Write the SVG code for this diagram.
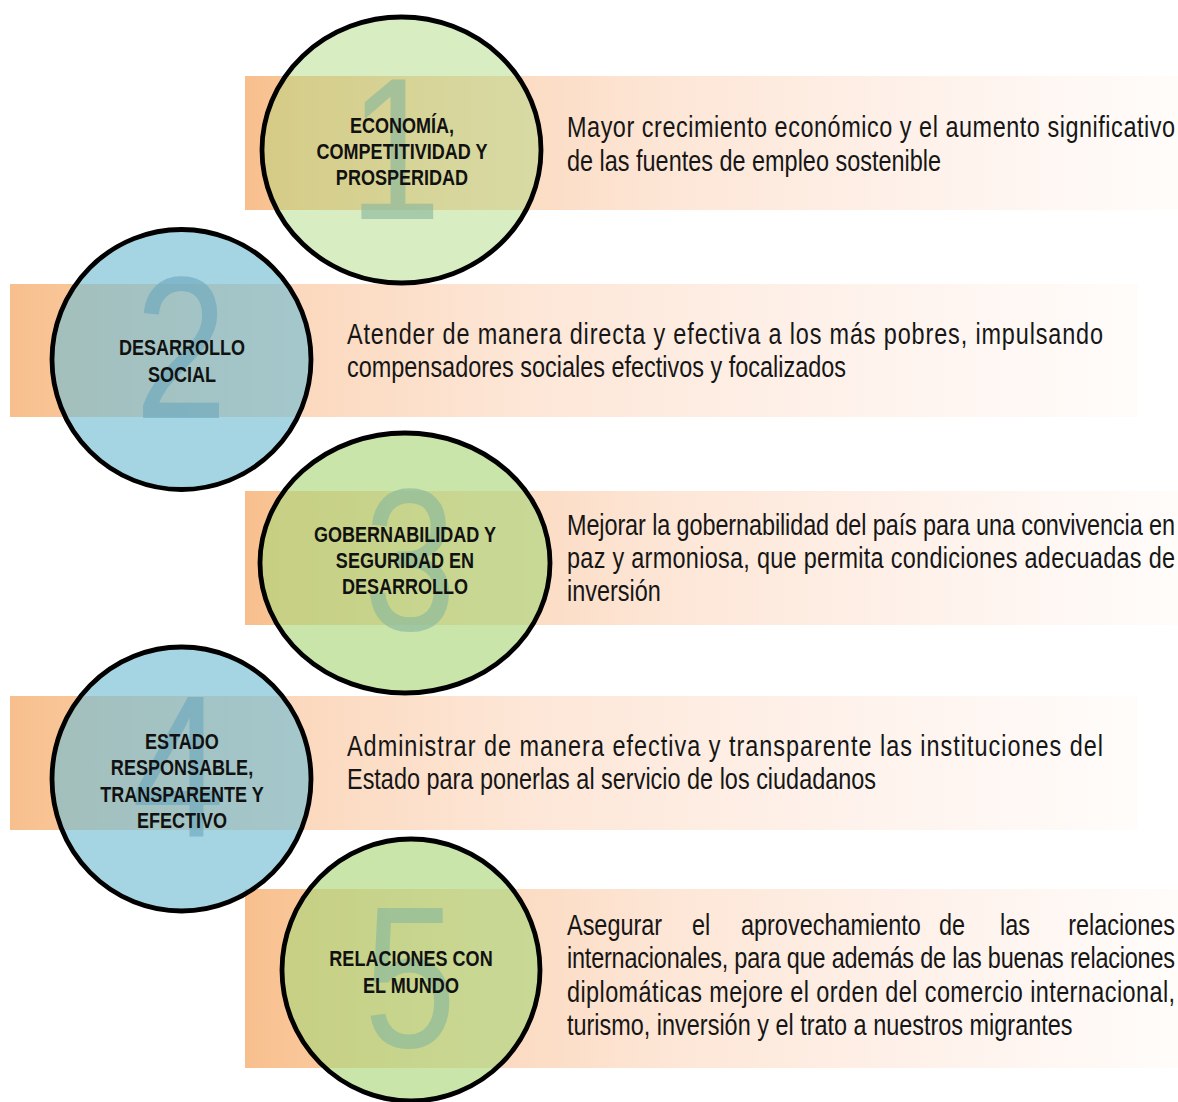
<svg xmlns="http://www.w3.org/2000/svg" width="1178" height="1102" viewBox="0 0 1178 1102">
  <defs>
    <linearGradient id="band" x1="0" y1="0" x2="1" y2="0">
      <stop offset="0" stop-color="#f8bf8d"/>
      <stop offset="0.04" stop-color="#f9c495"/>
      <stop offset="0.25" stop-color="#fbd8bd"/>
      <stop offset="0.45" stop-color="#fde6d6"/>
      <stop offset="0.72" stop-color="#fef1ea"/>
      <stop offset="1" stop-color="#fffcfa"/>
    </linearGradient>
    <style>
      .band { fill: url(#band); }
      .ring { fill: none; stroke: #000; stroke-width: 4.8; }
      .green1 { fill: #abd77a; fill-opacity: 0.45; }
      .green { fill: #abd77a; fill-opacity: 0.64; }
      .blue { fill: #70bdd3; fill-opacity: 0.63; }
      .num { font-family: "Liberation Sans", Arial, sans-serif; font-size: 203px; text-anchor: middle; }
      .numg { fill: #86b69c; fill-opacity: 0.62; }
      .numb { fill: #6aa6bd; fill-opacity: 0.62; }
      .lbl { font-family: "Liberation Sans", Arial, sans-serif; font-weight: bold; font-size: 22px; fill: #111; text-anchor: middle; }
      .txt { font-family: "Liberation Sans", Arial, sans-serif; font-size: 28.6px; fill: #161616; }
    </style>
  </defs>

  <g id="bands">
    <rect class="band" x="245" y="76" width="933" height="134"/>
    <rect class="band" x="10" y="284" width="1128" height="133"/>
    <rect class="band" x="245" y="491" width="933" height="134"/>
    <rect class="band" x="10" y="696" width="1128" height="134"/>
    <rect class="band" x="245" y="889" width="933" height="179"/>
  </g>

  <g id="connectors"></g>

  <g id="node1">
    <ellipse class="green1" cx="401.5" cy="150" rx="139.5" ry="133"/>
    <text class="num numg" transform="translate(395 219) scale(0.82 1)">1</text>
    <ellipse class="ring" cx="401.5" cy="150" rx="139.5" ry="133"/>
    <text class="lbl" transform="translate(402 133) scale(0.82 1)"><tspan x="0" y="0">ECONOMÍA,</tspan><tspan x="0" y="26">COMPETITIVIDAD Y</tspan><tspan x="0" y="52">PROSPERIDAD</tspan></text>
    <text class="txt" transform="translate(567 137) scale(0.82 1)" textLength="741.5" lengthAdjust="spacing">Mayor crecimiento económico y el aumento significativo</text>
    <text class="txt" transform="translate(567 171) scale(0.82 1)">de las fuentes de empleo sostenible</text>
  </g>

  <g id="node2">
    <ellipse class="blue" cx="181.5" cy="359.5" rx="129.5" ry="130"/>
    <text class="num numb" transform="translate(181 418) scale(0.82 1)">2</text>
    <ellipse class="ring" cx="181.5" cy="359.5" rx="129.5" ry="130"/>
    <text class="lbl" transform="translate(182 355) scale(0.82 1)"><tspan x="0" y="0">DESARROLLO</tspan><tspan x="0" y="27">SOCIAL</tspan></text>
    <text class="txt" transform="translate(347 344) scale(0.82 1)" textLength="922" lengthAdjust="spacing">Atender de manera directa y efectiva a los más pobres, impulsando</text>
    <text class="txt" transform="translate(347 377) scale(0.82 1)">compensadores sociales efectivos y focalizados</text>
  </g>

  <g id="node3">
    <ellipse class="green" cx="405" cy="563" rx="145" ry="130"/>
    <text class="num numg" transform="translate(410 630) scale(0.82 1)">3</text>
    <ellipse class="ring" cx="405" cy="563" rx="145" ry="130"/>
    <text class="lbl" transform="translate(405 542) scale(0.82 1)"><tspan x="0" y="0">GOBERNABILIDAD Y</tspan><tspan x="0" y="26">SEGURIDAD EN</tspan><tspan x="0" y="52">DESARROLLO</tspan></text>
    <text class="txt" transform="translate(567 535) scale(0.82 1)" textLength="741.5" lengthAdjust="spacing">Mejorar la gobernabilidad del país para una convivencia en</text>
    <text class="txt" transform="translate(567 568) scale(0.82 1)" textLength="741.5" lengthAdjust="spacing">paz y armoniosa, que permita condiciones adecuadas de</text>
    <text class="txt" transform="translate(567 601) scale(0.82 1)">inversión</text>
  </g>

  <g id="node4">
    <ellipse class="blue" cx="181.5" cy="779" rx="129.5" ry="132"/>
    <text class="num numb" transform="translate(178 837) scale(0.82 1)">4</text>
    <ellipse class="ring" cx="181.5" cy="779" rx="129.5" ry="132"/>
    <text class="lbl" transform="translate(182 749) scale(0.82 1)"><tspan x="0" y="0">ESTADO</tspan><tspan x="0" y="26">RESPONSABLE,</tspan><tspan x="0" y="53">TRANSPARENTE Y</tspan><tspan x="0" y="79">EFECTIVO</tspan></text>
    <text class="txt" transform="translate(347 756) scale(0.82 1)" textLength="922" lengthAdjust="spacing">Administrar de manera efectiva y transparente las instituciones del</text>
    <text class="txt" transform="translate(347 789) scale(0.82 1)">Estado para ponerlas al servicio de los ciudadanos</text>
  </g>

  <g id="node5">
    <ellipse class="green" cx="411" cy="970" rx="129" ry="131"/>
    <text class="num numg" transform="translate(410 1047) scale(0.82 1)">5</text>
    <ellipse class="ring" cx="411" cy="970" rx="129" ry="131"/>
    <text class="lbl" transform="translate(411 966) scale(0.82 1)"><tspan x="0" y="0">RELACIONES CON</tspan><tspan x="0" y="27">EL MUNDO</tspan></text>
    <text class="txt" transform="translate(567 935) scale(0.82 1)"><tspan x="0">Asegurar</tspan><tspan x="152.4">el</tspan><tspan x="212.2">aprovechamiento</tspan><tspan x="453.7">de</tspan><tspan x="528">las</tspan></text>
    <text class="txt" transform="translate(1175 935) scale(0.82 1)" text-anchor="end">relaciones</text>
    <text class="txt" transform="translate(567 968) scale(0.82 1)" textLength="741.5" lengthAdjust="spacing">internacionales, para que además de las buenas relaciones</text>
    <text class="txt" transform="translate(567 1002) scale(0.82 1)" textLength="741.5" lengthAdjust="spacing">diplomáticas mejore el orden del comercio internacional,</text>
    <text class="txt" transform="translate(567 1035) scale(0.82 1)">turismo, inversión y el trato a nuestros migrantes</text>
  </g>
</svg>
